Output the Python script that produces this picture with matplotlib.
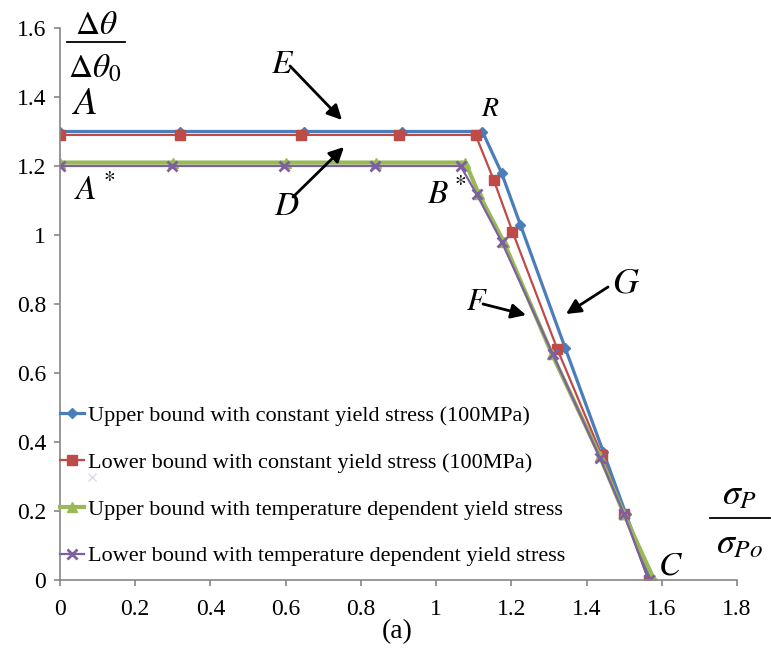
import numpy as np
import matplotlib.pyplot as plt
from matplotlib.ticker import FuncFormatter
from matplotlib.lines import Line2D

plt.rcParams['font.family'] = ['Liberation Serif', 'DejaVu Serif']
plt.rcParams['mathtext.fontset'] = 'stix'

# Upper / lower bounds, constant yield stress (100MPa)
x_ub_const = [0, 0.32, 0.65, 0.91, 1.123, 1.174, 1.224, 1.343, 1.445, 1.505, 1.57]
y_ub_const = [1.30, 1.30, 1.30, 1.30, 1.30, 1.18, 1.03, 0.673, 0.37, 0.19, 0.0]
x_lb_const = [0, 0.32, 0.64, 0.90, 1.105, 1.153, 1.203, 1.322, 1.44, 1.50, 1.565]
y_lb_const = [1.29, 1.29, 1.29, 1.29, 1.29, 1.16, 1.01, 0.67, 0.363, 0.19, 0.0]

# Upper / lower bounds, temperature dependent yield stress
x_ub_temp = [0, 0.30, 0.60, 0.84, 1.078, 1.113, 1.18, 1.308, 1.435, 1.50, 1.58]
y_ub_temp = [1.21, 1.21, 1.21, 1.21, 1.21, 1.12, 0.98, 0.655, 0.36, 0.19, 0.0]
x_lb_temp = [0, 0.299, 0.595, 0.838, 1.065, 1.108, 1.174, 1.31, 1.435, 1.50, 1.565]
y_lb_temp = [1.20, 1.20, 1.20, 1.20, 1.20, 1.118, 0.981, 0.655, 0.355, 0.19, 0.0]

labels = ['Upper bound with constant yield stress (100MPa)',
          'Lower bound with constant yield stress (100MPa)',
          'Upper bound with temperature dependent yield stress',
          'Lower bound with temperature dependent yield stress']

x_ticks = [0, 0.2, 0.4, 0.6, 0.8, 1, 1.2, 1.4, 1.6, 1.8]
y_ticks = [0, 0.2, 0.4, 0.6, 0.8, 1, 1.2, 1.4, 1.6]

fig = plt.figure(figsize=(7.71, 6.51), dpi=100)
ax = fig.add_axes([60/771, 1 - 580/651, 677/771, 552/651])

ax.plot(x_ub_const, y_ub_const, color='#4A7EBB', lw=2.3, marker='D', ms=5, label=labels[0])
ax.plot(x_lb_const, y_lb_const, color='#BE4B48', lw=1.6, marker='s', ms=7, label=labels[1])
ax.plot(x_ub_temp, y_ub_temp, color='#98B954', lw=3.0, marker='^', ms=7, label=labels[2])
ax.plot(x_lb_temp, y_lb_temp, color='#7D60A0', lw=1.6, marker='x', ms=7, mew=2, label=labels[3])
ax.plot([0.085], [0.30], marker='x', ms=6, color='#7D60A0', alpha=0.25, lw=0)

ax.set_xlim(0, 1.8)
ax.set_ylim(0, 1.6)
ax.set_xticks(x_ticks)
ax.set_yticks(y_ticks)
fmt = FuncFormatter(lambda v, p: '%g' % v)
ax.xaxis.set_major_formatter(fmt)
ax.yaxis.set_major_formatter(fmt)
for s in ['top', 'right']:
    ax.spines[s].set_visible(False)
for s in ['left', 'bottom']:
    ax.spines[s].set_color('#868686')
    ax.spines[s].set_linewidth(1.2)
ax.tick_params(colors='#868686', labelcolor='black', labelsize=17, length=4, width=1.2)
ax.tick_params(axis='x', pad=10)
ax.tick_params(axis='y', pad=6)

leg = ax.legend(loc='upper left', bbox_to_anchor=(0.0, 0.316), frameon=False,
                fontsize=16, handlelength=1.1, handletextpad=0.15,
                labelspacing=1.18, borderpad=0, borderaxespad=0)


def px(x, y):
    return (x / 771, 1 - y / 651)


# axis labels drawn as stacked fractions
fig.text(*px(96, 26), r'$\Delta\theta$', fontsize=24, ha='center', va='center')
fig.add_artist(Line2D([67/771, 125/771], [1 - 42/651] * 2, color='black', lw=1.3))
fig.text(*px(95, 69), r'$\Delta\theta_0$', fontsize=24, ha='center', va='center')

fig.text(*px(740, 496), r'$\sigma_P$', fontsize=26, ha='center', va='center')
fig.add_artist(Line2D([710/771, 770/771], [1 - 518/651] * 2, color='black', lw=1.3))
fig.text(*px(740, 545), r'$\sigma_{Po}$', fontsize=26, ha='center', va='center')

fig.text(*px(397, 632), '(a)', fontsize=20, ha='center', va='center')

# point labels
for t, (x, y), size in [(r'$A$', (85, 104), 28), (r'$A^*$', (95, 190), 24),
                        (r'$E$', (283, 65), 24), (r'$D$', (287, 207), 24),
                        (r'$R$', (490, 109), 20), (r'$B^*$', (447, 194), 24),
                        (r'$F$', (477, 302), 22), (r'$G$', (626, 284), 26),
                        (r'$C$', (670, 566), 24)]:
    fig.text(*px(x, y), t, fontsize=size, ha='center', va='center')

# arrows pointing at the curves
for (x0, y0), (x1, y1) in [((290, 66), (342, 120)), ((293, 197), (344, 147)),
                           ((483, 304), (526, 315)), ((608, 287), (566, 314))]:
    ax.annotate('', xy=px(x1, y1), xytext=px(x0, y0),
                xycoords='figure fraction', textcoords='figure fraction',
                arrowprops=dict(arrowstyle='-|>', color='black', lw=2,
                                mutation_scale=22, shrinkA=0, shrinkB=0))

plt.savefig('out.png', dpi=100)
